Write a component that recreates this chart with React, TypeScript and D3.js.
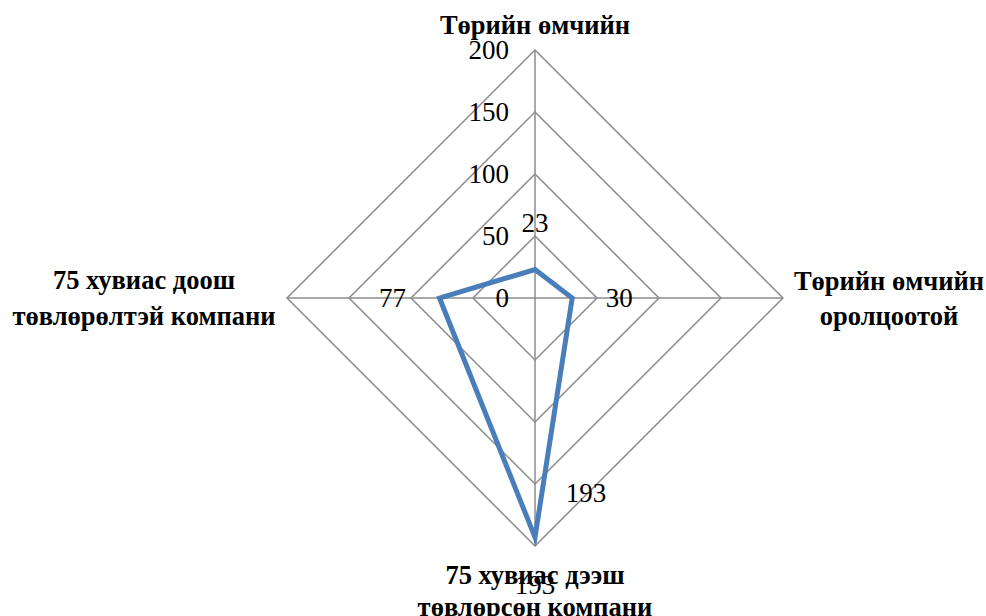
import React from "react";
import * as d3 from "d3";

// Radar categories, clockwise from the top spoke
const categories: string[][] = [
  ["Төрийн өмчийн"],
  ["Төрийн өмчийн", "оролцоотой"],
  ["75 хувиас дээш", "төвлөрсөн компани"],
  ["75 хувиас доош", "төвлөрөлтэй компани"],
];
const values: number[] = [23, 30, 193, 77];
const ticks: number[] = [0, 50, 100, 150, 200];
const gridLevels: number[] = [50, 100, 150, 200];

const W = 986;
const H = 616;
const cx = 535;
const cy = 298;
const R = 248;
const SERIF = '"Liberation Serif", "Times New Roman", serif';

const r = d3.scaleLinear().domain([0, 200]).range([0, R]);
const angle = (i: number) => (i * 2 * Math.PI) / categories.length;
const pt = (i: number, v: number): [number, number] => {
  const a = angle(i);
  return [cx + Math.sin(a) * r(v), cy - Math.cos(a) * r(v)];
};

const lineGen = d3
  .line<[number, number]>()
  .x((d) => d[0])
  .y((d) => d[1])
  .curve(d3.curveLinearClosed);

// Category label placement: distance from the center and line spacing
const catLayout = [
  { dist: 273, lineH: 35 },
  { dist: 354, lineH: 35 },
  { dist: 277, lineH: 32 },
  { dist: 391, lineH: 36 },
];

export default function App() {
  const gridPolys = gridLevels.map((lv) =>
    lineGen(categories.map((_, i) => pt(i, lv)))
  );
  const seriesPath = lineGen(values.map((v, i) => pt(i, v)));

  return (
    <svg
      width={W}
      height={H}
      style={{ position: "absolute", left: 0, top: 0, background: "#fff" }}
      fontFamily={SERIF}
    >
      {/* grid rings */}
      {gridPolys.map((d, k) => (
        <path key={k} d={d || ""} fill="none" stroke="#8c8c8c" strokeWidth={1.5} />
      ))}
      {/* spokes */}
      {categories.map((_, i) => {
        const [x, y] = pt(i, 200);
        return (
          <line key={i} x1={cx} y1={cy} x2={x} y2={y} stroke="#8c8c8c" strokeWidth={1.5} />
        );
      })}
      {/* radial tick labels along the top spoke */}
      {ticks.map((t) => (
        <text
          key={t}
          x={cx - 26}
          y={cy - r(t)}
          dy="0.34em"
          textAnchor="end"
          fontSize={27}
          fill="#000"
        >
          {t}
        </text>
      ))}
      {/* series */}
      <path
        d={seriesPath || ""}
        fill="none"
        stroke="#4a7ebb"
        strokeWidth={5}
        strokeLinejoin="miter"
      />
      {/* value labels, placed just outside each vertex */}
      {values.map((v, i) => {
        const a = angle(i);
        const rr = r(v) + 47;
        const x = cx + Math.sin(a) * rr;
        const y = cy - Math.cos(a) * rr;
        return (
          <text key={i} x={x} y={y} dy="0.34em" textAnchor="middle" fontSize={27} fill="#000">
            {v}
          </text>
        );
      })}
      {/* extra label for the bottom vertex */}
      {(() => {
        const [x, y] = pt(2, values[2]);
        return (
          <text x={x + 51} y={y - 45} dy="0.34em" textAnchor="middle" fontSize={27} fill="#000">
            {values[2]}
          </text>
        );
      })()}
      {/* category labels */}
      {categories.map((lines, i) => {
        const a = angle(i);
        const { dist, lineH } = catLayout[i];
        const x = cx + Math.sin(a) * dist;
        const y = cy - Math.cos(a) * dist;
        const n = lines.length;
        let y0: number;
        if (i === 0) y0 = y - (n - 1) * lineH;
        else if (i === 2) y0 = y;
        else y0 = y - ((n - 1) * lineH) / 2;
        return (
          <text key={i} textAnchor="middle" fontSize={26.5} fontWeight="bold" fill="#000">
            {lines.map((s, k) => (
              <tspan key={k} x={x} y={y0 + k * lineH} dy="0.34em">
                {s}
              </tspan>
            ))}
          </text>
        );
      })}
    </svg>
  );
}
